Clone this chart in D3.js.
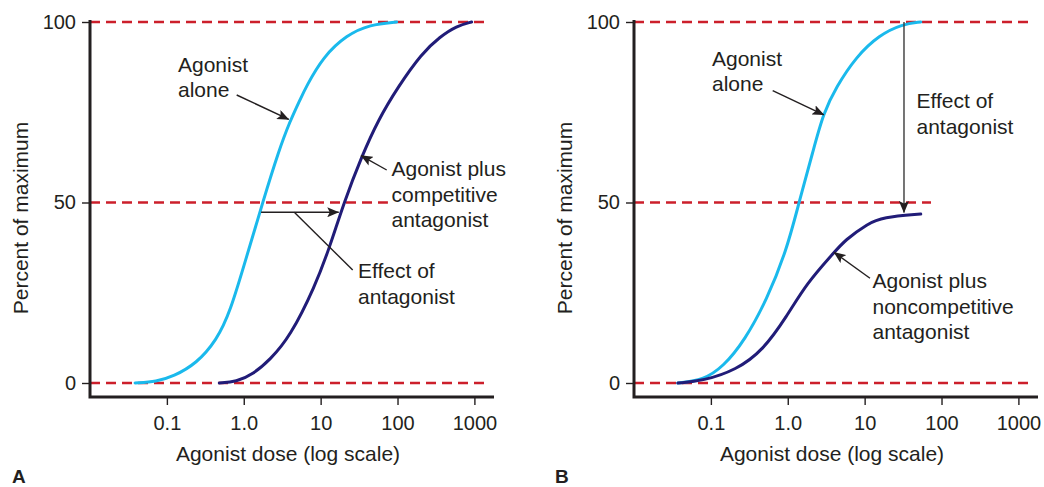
<!DOCTYPE html>
<html><head><meta charset="utf-8">
<script src="https://cdn.jsdelivr.net/npm/d3@7"></script>
<style>
body{margin:0;background:#fff}
text{font-family:"Liberation Sans",Arial,Helvetica,sans-serif;fill:#231f20}
</style>
</head><body>
<svg id="chart" width="1044" height="487"></svg>
<script>
// ---------- data ----------
const xTicks = [0.1, 1, 10, 100, 1000];
const xTickLabels = ["0.1", "1.0", "10", "100", "1000"];
const yTicks = [0, 50, 100];
const yTickLabels = ["0", "50", "100"];
const xTitle = "Agonist dose (log scale)";
const yTitle = "Percent of maximum";
const panelLetters = ["A", "B"];

// Panel A: agonist alone
const aloneA_dose = [0.0386,0.0736,0.121,0.244,0.444,0.662,1.09,1.79,2.87,3.99,5.38,6.44,10.8,21.8,43.8,97.3];
const aloneA_pct  = [0,0.4,1.8,5.4,11.9,19.5,35,50.5,64.5,72.5,78.4,82,90.4,96.4,99.3,100];
// Panel A: agonist plus competitive antagonist
const compA_dose = [0.48,0.8,1.33,2.19,3.99,8.43,13.2,20.1,34.1,56.1,102,206,356,587,920];
const compA_pct  = [0,0.3,2.5,6.4,12.8,26.7,37.8,50,62.7,72.9,82.1,91.3,95.9,98.9,100];
// Panel B: agonist alone
const aloneB_dose = [0.0372,0.0794,0.145,0.277,0.532,0.968,1.40,2.15,2.90,4.27,7.76,15.5,30.9,53.7];
const aloneB_pct  = [0,0.8,4.5,11.9,23,36.8,50,64.5,74.7,82,90.4,96.4,99.4,100];
// Panel B: agonist plus noncompetitive antagonist
const nonB_dose = [0.0372,0.0794,0.214,0.479,0.968,1.76,3.91,5.55,11.1,17.0,53.7];
const nonB_pct  = [0,0.6,3.6,9.1,18.4,27.6,35.9,39.6,44.2,45.9,46.8];

// reference dashed lines: percent level and dose where each line ends
const refPct = [100, 50, 0];
const refEndA = [1370, 75, 1370];
const refEndB = [1370, 73, 1370];

// ---------- layout ----------
const svg = d3.select("#chart");
const colLight = "#1ab9ec", colDark = "#211c78", colRed = "#cc1f2b", colInk = "#231f20";
const yTop = 22, yZero = 383, axisY = 397;
const y = d3.scaleLinear().domain([0, 100]).range([yZero, yTop]);

const defs = svg.append("defs");
defs.append("marker").attr("id","ah").attr("viewBox","0 0 12 10")
  .attr("refX",11.5).attr("refY",5).attr("markerWidth",12).attr("markerHeight",10)
  .attr("markerUnits","userSpaceOnUse").attr("orient","auto")
  .append("path").attr("d","M0,0 L12,5 L0,10 L2.5,5 Z").attr("fill",colInk);

function zip(d, p){ return d.map((v,i)=>({dose:v, pct:p[i]})); }

const panels = [
  {ox: 90, letterX: 12, yTitleX: 28, series: [[aloneA_dose,aloneA_pct,colLight],[compA_dose,compA_pct,colDark]], refEnd: refEndA},
  {ox: 634, letterX: 555, yTitleX: 572, series: [[aloneB_dose,aloneB_pct,colLight],[nonB_dose,nonB_pct,colDark]], refEnd: refEndB}
];

panels.forEach((P, pi) => {
  const x = d3.scaleLog().domain([0.01, Math.pow(10, 3.255)]).range([P.ox, P.ox + 404]);
  P.x = x;
  const g = svg.append("g");

  refPct.forEach((v, i) => {
    g.append("line").attr("x1", P.ox).attr("x2", x(P.refEnd[i]))
      .attr("y1", y(v)).attr("y2", y(v))
      .attr("stroke", colRed).attr("stroke-width", 2.6).attr("stroke-dasharray", "10,6");
  });

  const line = d3.line().x(d => x(d.dose)).y(d => y(d.pct)).curve(d3.curveBasis);
  P.series.forEach(([d, p, c]) => {
    g.append("path").datum(zip(d, p)).attr("d", line)
      .attr("fill", "none").attr("stroke", c).attr("stroke-width", 3).attr("stroke-linecap","round");
  });

  const xa = g.append("g").attr("transform", `translate(0,${axisY})`)
    .call(d3.axisBottom(x).tickValues(xTicks).tickFormat((d,i)=>xTickLabels[i]).tickSize(8).tickPadding(11));
  xa.select(".domain").remove();
  xa.selectAll(".tick line").attr("stroke", colInk).attr("stroke-width", 1.4);
  xa.selectAll(".tick text").attr("font-size", 20).attr("fill", colInk).style("font-family","Liberation Sans, Arial, sans-serif");

  const ya = g.append("g").attr("transform", `translate(${P.ox},0)`)
    .call(d3.axisLeft(y).tickValues(yTicks).tickFormat(d=>yTickLabels[yTicks.indexOf(d)]).tickSize(8).tickPadding(6));
  ya.select(".domain").remove();
  ya.selectAll(".tick line").attr("stroke", colInk).attr("stroke-width", 1.4);
  ya.selectAll(".tick text").attr("font-size", 20).attr("fill", colInk).style("font-family","Liberation Sans, Arial, sans-serif");

  g.append("path").attr("d", `M${P.ox},20 V${axisY} H${P.ox+404}`)
    .attr("fill","none").attr("stroke", colInk).attr("stroke-width", 3).attr("stroke-linejoin","miter");

  g.append("text").attr("x", (P.ox + P.ox + 404) / 2 - 4).attr("y", 461)
    .attr("text-anchor","middle").attr("font-size", 21).text(xTitle);
  g.append("text").attr("transform", `translate(${P.yTitleX},${218}) rotate(-90)`)
    .attr("text-anchor","middle").attr("font-size", 21).text(yTitle);
  g.append("text").attr("x", P.letterX).attr("y", 483).attr("font-size", 19)
    .attr("font-weight","bold").text(panelLetters[pi]);
});

// ---------- annotations ----------
function label(xp, yp, lines){
  const t = svg.append("text").attr("font-size", 21);
  lines.forEach((s,i)=> t.append("tspan").attr("x", xp).attr("y", yp + i*25.5).text(s));
}
function arrow(x1,y1,x2,y2,head=true,col=colInk){
  const l = svg.append("line").attr("x1",x1).attr("y1",y1).attr("x2",x2).attr("y2",y2)
    .attr("stroke",col).attr("stroke-width",1.4);
  if(head) l.attr("marker-end","url(#ah)");
}
const A = panels[0], B = panels[1];

// Panel A
label(178, 71.5, ["Agonist","alone"]);
arrow(236.7, 95, A.x(3.85), y(73));
label(391.5, 176, ["Agonist plus","competitive","antagonist"]);
arrow(386.7, 170, A.x(33.5), y(63));
arrow(A.x(1.68), y(47.3), A.x(17.2), y(47.3));
arrow(294.3, y(47.3), 352.7, 270, false);
label(358, 278, ["Effect of","antagonist"]);

// Panel B
label(712, 65.5, ["Agonist","alone"]);
arrow(772.7, 90.7, B.x(2.95), y(74.3));
arrow(B.x(32.5), y(100), B.x(32.5), y(47.2), true, "#3a3a3a");
label(916.5, 108, ["Effect of","antagonist"]);
label(872.5, 288, ["Agonist plus","noncompetitive","antagonist"]);
arrow(870, 278.3, B.x(4.0), y(36.2));
</script>
</body></html>
